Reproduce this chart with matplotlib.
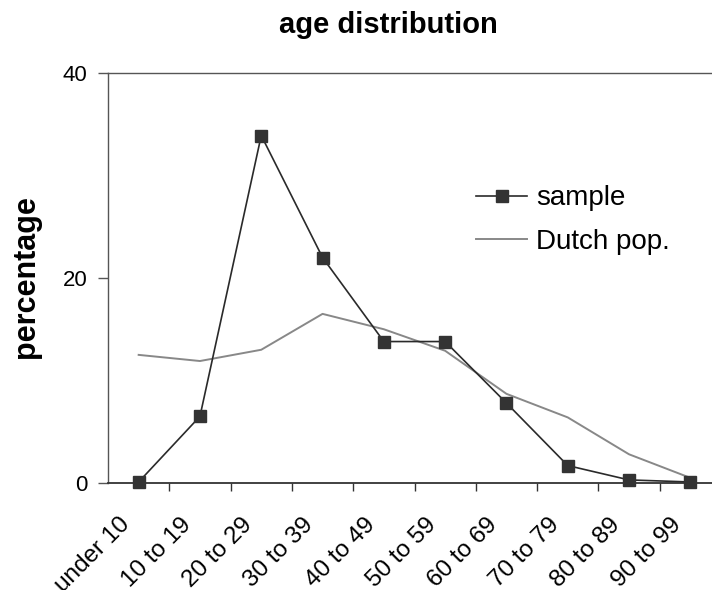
import numpy as np
from matplotlib import pyplot as plt
from matplotlib.transforms import ScaledTranslation

# возрастные группы и проценты
categories = ["under 10", "10 to 19", "20 to 29", "30 to 39", "40 to 49",
              "50 to 59", "60 to 69", "70 to 79", "80 to 89", "90 to 99"]
sample = [0.1, 6.5, 33.9, 22.0, 13.8, 13.8, 7.8, 1.7, 0.3, 0.1]
dutch_pop = [12.5, 11.9, 13.0, 16.5, 15.0, 12.9, 8.7, 6.4, 2.8, 0.5]

plt.rcParams['font.family'] = ['Liberation Sans', 'DejaVu Sans']

fig = plt.figure(figsize=(7.12, 5.90), dpi=100)
ax = fig.add_axes([108 / 712, 1 - 483 / 590, (721 - 108) / 712, (483 - 73) / 590])

x = np.arange(len(categories))
ax.plot(x, sample, '-s', color='#2a2a2a', lw=1.2, ms=8, mfc='#333333', mec='#333333',
        label='sample', zorder=3, clip_on=False)
ax.plot(x, dutch_pop, '-', color='#888888', lw=1.4, label='Dutch pop.', zorder=2)

ax.set_xlim(-0.5, len(categories) - 0.5)
ax.set_ylim(0, 40)
ax.set_yticks([0, 20, 40])
ax.set_xticks(x)
ax.set_xticklabels(categories, rotation=45, ha='right', rotation_mode='anchor', fontsize=17.5)
ax.set_xticks(np.arange(0.5, len(categories) - 0.5), minor=True)
ax.tick_params(axis='x', which='major', length=0, pad=22)
ax.tick_params(axis='x', which='minor', length=6, width=1, color='#333333', direction='out')
ax.tick_params(axis='y', length=7, width=1, color='#555555', labelsize=16, pad=8)
# сдвиг подписей влево (после tick_params, иначе сбрасывается)
shift = ScaledTranslation(-20 / 100, 0, fig.dpi_scale_trans)
for lbl in ax.get_xticklabels():
    lbl.set_transform(lbl.get_transform() + shift)

for side in ['left', 'top', 'right']:
    ax.spines[side].set_color('#555555')
    ax.spines[side].set_linewidth(1)
ax.spines['bottom'].set_color('#333333')
ax.spines['bottom'].set_linewidth(1.3)

fig.legend(loc='center left', bbox_to_anchor=(476 / 712, 1 - 220 / 590), frameon=False,
           fontsize=20, borderpad=0, borderaxespad=0, handlelength=1.85,
           handletextpad=0.3, labelspacing=0.62)

fig.text(388 / 712, 1 - 25 / 590, "age distribution", ha='center', va='center',
         fontsize=21, fontweight='bold')
fig.text(26 / 712, 1 - 277 / 590, "percentage", ha='center', va='center',
         rotation=90, fontsize=22, fontweight='bold')

fig.savefig("out.png", dpi=100)
